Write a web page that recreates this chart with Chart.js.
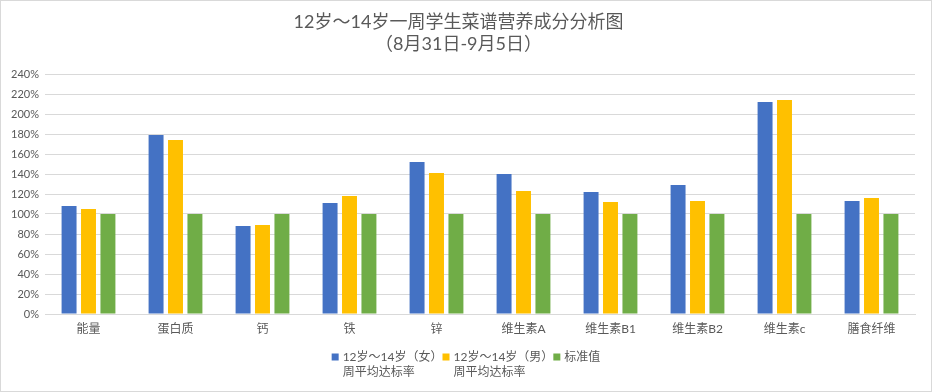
<!DOCTYPE html>
<html>
<head>
<meta charset="utf-8">
<script src="https://cdn.jsdelivr.net/npm/chart.js@4.4.1/dist/chart.umd.min.js"></script>
<style>
  html, body { margin: 0; padding: 0; background: #fff; }
  #wrap { width: 930px; height: 390px; border: 1px solid #d9d9d9; }
</style>
</head>
<body>
<div id="wrap"><canvas id="chart" width="930" height="390"></canvas></div>
<script>
const categories = ["能量", "蛋白质", "钙", "铁", "锌", "维生素A", "维生素B1", "维生素B2", "维生素c", "膳食纤维"];
const girls = [108, 179, 88, 111, 152, 140, 122, 129, 212, 113];
const boys = [105, 174, 89, 118, 141, 123, 112, 113, 214, 116];
const standard = [100, 100, 100, 100, 100, 100, 100, 100, 100, 100];
const seriesLabels = [
  ["12岁～14岁（女）", "周平均达标率"],
  ["12岁～14岁（男）", "周平均达标率"],
  ["标准值"]
];
const titleLines = ["12岁～14岁一周学生菜谱营养成分分析图", "（8月31日-9月5日）"];

const FONT = 'Lato, "Noto Sans CJK SC", sans-serif';
const TEXT = "#595959";

// draws the two-line legend under the plot
const bottomLegend = {
  id: "bottomLegend",
  afterDraw(chart) {
    const ctx = chart.ctx;
    ctx.save();
    ctx.font = "12px " + FONT;
    ctx.textBaseline = "middle";
    const box = 7, gap = 4, spacing = 0;
    const items = chart.data.datasets.map(ds => {
      const lines = ds.label;
      const w = Math.max(...lines.map(l => ctx.measureText(l).width));
      return { lines, w: box + gap + w, color: ds.backgroundColor };
    });
    const total = items.reduce((a, it) => a + it.w, 0) + spacing * (items.length - 1);
    let x = chart.width / 2 - total / 2;
    const y0 = 356, lh = 15;
    items.forEach(it => {
      ctx.fillStyle = it.color;
      ctx.fillRect(x, y0 - 3.5, box, box);
      ctx.fillStyle = TEXT;
      it.lines.forEach((l, i) => ctx.fillText(l, x + box + gap, y0 + i * lh));
      x += it.w + spacing;
    });
    ctx.restore();
  }
};

new Chart(document.getElementById("chart"), {
  type: "bar",
  data: {
    labels: categories,
    datasets: [
      { label: seriesLabels[0], data: girls, backgroundColor: "#4472C4" },
      { label: seriesLabels[1], data: boys, backgroundColor: "#FFC000" },
      { label: seriesLabels[2], data: standard, backgroundColor: "#70AD47" }
    ]
  },
  options: {
    responsive: false,
    animation: false,
    categoryPercentage: 0.67,
    barPercentage: 0.77,
    layout: { padding: { left: 1, right: 16, top: 0, bottom: 50 } },
    plugins: {
      legend: { display: false },
      tooltip: { enabled: false },
      title: {
        display: true,
        text: titleLines,
        color: TEXT,
        font: { family: FONT, size: 18, weight: "normal", lineHeight: 22 / 18 },
        padding: { top: 10, bottom: 19 }
      }
    },
    scales: {
      x: {
        grid: { display: false, drawTicks: false },
        border: { color: "#d9d9d9" },
        ticks: { color: TEXT, font: { family: FONT, size: 12 }, padding: 8 },
        afterFit(s) { s.height = 27; }
      },
      y: {
        min: 0,
        max: 240,
        ticks: {
          stepSize: 20,
          color: TEXT,
          font: { family: FONT, size: 11 },
          padding: 6,
          callback: v => v + "%"
        },
        grid: { color: "#d9d9d9", drawTicks: false },
        border: { display: false },
        afterFit(s) { s.width = 43; }
      }
    }
  },
  plugins: [bottomLegend]
});
</script>
</body>
</html>
